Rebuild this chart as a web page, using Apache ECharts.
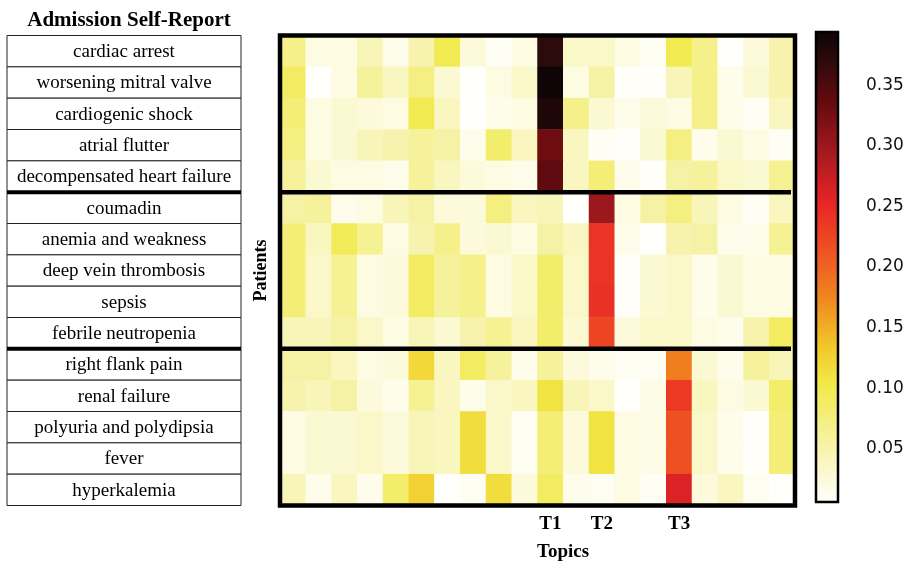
<!DOCTYPE html>
<html><head><meta charset="utf-8">
<script src="https://cdn.jsdelivr.net/npm/echarts@6/dist/echarts.min.js"></script>
<style>html,body{margin:0;padding:0;background:#fff}#c{width:912px;height:564px}</style>
</head><body><div id="c"></div>
<script>
const patients = [
  'cardiac arrest', 'worsening mitral valve', 'cardiogenic shock', 'atrial flutter', 'decompensated heart failure',
  'coumadin', 'anemia and weakness', 'deep vein thrombosis', 'sepsis', 'febrile neutropenia',
  'right flank pain', 'renal failure', 'polyuria and polydipsia', 'fever', 'hyperkalemia'
];
const topicCols = ['1','2','3','4','5','6','7','8','9','10','11','12','13','14','15','16','17','18','19','20'];
const topicTickLabels = ['','','','','','','','','','','T1','','T2','','','T3','','','',''];

// rows 0-4 (cardiac group)
const cardiacValues = [
  [0.070,0.020,0.020,0.045,0.015,0.050,0.100,0.025,0.010,0.020, 0.370,0.035,0.035,0.020,0.012,0.100,0.070,0.003,0.025,0.050],
  [0.090,0.005,0.020,0.060,0.040,0.075,0.030,0.005,0.020,0.035, 0.392,0.020,0.055,0.008,0.008,0.045,0.070,0.015,0.030,0.050],
  [0.080,0.020,0.030,0.025,0.020,0.100,0.040,0.003,0.015,0.020, 0.380,0.070,0.030,0.015,0.025,0.020,0.070,0.015,0.010,0.040],
  [0.075,0.020,0.030,0.045,0.050,0.060,0.055,0.015,0.085,0.040, 0.330,0.040,0.010,0.008,0.030,0.075,0.015,0.030,0.020,0.010],
  [0.060,0.030,0.020,0.020,0.015,0.060,0.040,0.025,0.020,0.015, 0.340,0.040,0.080,0.015,0.008,0.055,0.060,0.035,0.030,0.065]
];
// rows 5-9 (hematology group)
const hematologyValues = [
  [0.055,0.060,0.015,0.020,0.045,0.055,0.025,0.025,0.075,0.040, 0.045,0.002,0.300,0.020,0.055,0.075,0.045,0.020,0.010,0.040],
  [0.080,0.040,0.095,0.065,0.020,0.050,0.070,0.025,0.030,0.020, 0.055,0.040,0.240,0.015,0.005,0.050,0.055,0.015,0.015,0.065],
  [0.080,0.035,0.065,0.020,0.025,0.090,0.060,0.070,0.020,0.035, 0.085,0.035,0.240,0.008,0.030,0.035,0.015,0.030,0.020,0.020],
  [0.080,0.035,0.065,0.020,0.025,0.090,0.060,0.070,0.020,0.035, 0.085,0.035,0.242,0.008,0.030,0.035,0.015,0.030,0.020,0.020],
  [0.045,0.045,0.055,0.035,0.020,0.045,0.030,0.050,0.065,0.040, 0.085,0.030,0.225,0.025,0.035,0.035,0.020,0.015,0.050,0.090]
];
// rows 10-14 (renal group)
const renalValues = [
  [0.055,0.055,0.040,0.020,0.025,0.120,0.040,0.090,0.060,0.015, 0.060,0.025,0.015,0.012,0.012,0.180,0.030,0.015,0.060,0.045],
  [0.050,0.045,0.055,0.025,0.015,0.065,0.040,0.015,0.035,0.040, 0.110,0.045,0.035,0.005,0.018,0.235,0.040,0.020,0.030,0.085],
  [0.020,0.030,0.030,0.035,0.025,0.045,0.040,0.115,0.035,0.012, 0.080,0.025,0.110,0.020,0.018,0.215,0.035,0.015,0.008,0.080],
  [0.020,0.030,0.030,0.035,0.025,0.045,0.040,0.115,0.035,0.012, 0.080,0.025,0.110,0.020,0.018,0.215,0.035,0.015,0.008,0.080],
  [0.045,0.015,0.040,0.015,0.085,0.125,0.005,0.012,0.115,0.025, 0.090,0.015,0.012,0.020,0.010,0.260,0.025,0.040,0.012,0.005]
];
const colorbarTicks = [0.05, 0.10, 0.15, 0.20, 0.25, 0.30, 0.35];
const valueMin = 0.006;
const valueMax = 0.394;

// reversed "hot" colormap anchors (style, not data)
const cmapAnchors = [
  [0.00, [255,255,252]],
  [0.12, [247,243,170]],
  [0.254,[241,233,72]],
  [0.33, [242,200,40]],
  [0.45, [240,125,32]],
  [0.55, [238,75,35]],
  [0.64, [230,35,38]],
  [0.75, [160,25,30]],
  [0.85, [100,10,14]],
  [0.93, [50,10,12]],
  [1.00, [12,5,5]]
];
function cmap(t) {
  for (let i = 1; i < cmapAnchors.length; i++) {
    if (t <= cmapAnchors[i][0]) {
      const [t0, c0] = cmapAnchors[i-1], [t1, c1] = cmapAnchors[i];
      const f = (t - t0) / (t1 - t0);
      const c = c0.map((v, k) => Math.round(v + (c1[k] - v) * f));
      return 'rgb(' + c.join(',') + ')';
    }
  }
  return 'rgb(12,5,5)';
}
const NC = 60;
const cmapColors = [];
const cmapStops = [];
for (let i = 0; i <= NC; i++) {
  cmapColors.push(cmap(i / NC));
  cmapStops.push({offset: 1 - i / NC, color: cmap(i / NC)});
}

const allRows = cardiacValues.concat(hematologyValues, renalValues);
const heatData = [];
allRows.forEach((row, r) => row.forEach((v, c) => heatData.push([c, r, v])));

const serif = '"Liberation Serif", "Times New Roman", serif';
const G = {left: 280, top: 35.5, width: 515, height: 470};
const chart = echarts.init(document.getElementById('c'), null, {renderer: 'canvas'});

chart.setOption({
  animation: false,
  backgroundColor: '#fff',
  title: {
    text: 'Admission Self-Report', left: 124, top: 5, textAlign: 'center',
    textStyle: {fontFamily: serif, fontWeight: 'bold', fontSize: 21, color: '#000'}
  },
  grid: [
    {left: G.left, top: G.top, width: G.width, height: G.height, show: false},
    {left: 7, top: G.top, width: 234, height: G.height, show: false},
    {left: 816, top: 32, width: 22, height: 470, show: false}
  ],
  xAxis: [
    {gridIndex: 0, type: 'category', data: topicCols, axisLine: {show: false}, axisTick: {show: false},
     axisLabel: {interval: 0, margin: 9, formatter: (v, i) => topicTickLabels[i],
                 fontFamily: serif, fontWeight: 'bold', fontSize: 19, color: '#000'}},
    {gridIndex: 1, type: 'value', min: 0, max: 1, show: false},
    {gridIndex: 2, type: 'value', min: 0, max: 1, show: false}
  ],
  yAxis: [
    {gridIndex: 0, type: 'category', data: patients, inverse: true, axisLine: {show: false}, axisTick: {show: false},
     axisLabel: {show: false}, name: 'Patients', nameLocation: 'middle', nameRotate: 90, nameGap: 10,
     nameTextStyle: {fontFamily: serif, fontWeight: 'bold', fontSize: 18, color: '#000'}},
    {gridIndex: 1, type: 'category', data: patients, inverse: true, show: false},
    {gridIndex: 2, type: 'value', min: valueMin, max: valueMax, position: 'right',
     axisLine: {show: false}, splitLine: {show: false},
     axisTick: {show: true, customValues: colorbarTicks, length: 13, lineStyle: {color: '#000', width: 2.5}},
     axisLabel: {show: true, customValues: colorbarTicks, formatter: v => v.toFixed(2), margin: 28,
                 fontFamily: '"DejaVu Sans", sans-serif', fontSize: 17, color: '#111'}}
  ],
  visualMap: {
    type: 'continuous', show: false, seriesIndex: 0, min: valueMin, max: valueMax,
    inRange: {color: cmapColors}
  },
  series: [
    {type: 'heatmap', xAxisIndex: 0, yAxisIndex: 0, data: heatData, itemStyle: {borderWidth: 0}, emphasis: {disabled: true}},
    {type: 'custom', xAxisIndex: 1, yAxisIndex: 1, data: patients.map((p, i) => [0, i]),
     renderItem: (params, api) => {
       const idx = api.value(1);
       const c = api.coord([0, idx]);
       const h = api.size([0, 1])[1];
       const cs = params.coordSys;
       return {type: 'group', children: [
         {type: 'rect', shape: {x: cs.x, y: c[1] - h / 2, width: cs.width, height: h},
          style: {fill: '#fff', stroke: '#222', lineWidth: 1}},
         {type: 'text', style: {text: patients[idx], x: cs.x + cs.width / 2, y: c[1] + 1, align: 'center',
          verticalAlign: 'middle', font: '19px ' + serif, fill: '#000'}}
       ]};
     }},
    {type: 'custom', xAxisIndex: 2, yAxisIndex: 2, data: [[0.5, valueMin, valueMax]],
     renderItem: (params, api) => {
       const cs = params.coordSys;
       const top = api.coord([0.5, api.value(2)])[1];
       const bot = api.coord([0.5, api.value(1)])[1];
       return {type: 'rect', shape: {x: cs.x, y: top, width: cs.width, height: bot - top},
               style: {fill: new echarts.graphic.LinearGradient(0, 0, 0, 1, cmapStops), stroke: '#000', lineWidth: 2.5}};
     }}
  ]
});

// group separators (row boundaries between sections) and frame
const rowH = G.height / patients.length;
const sepRows = [cardiacValues.length, cardiacValues.length + hematologyValues.length];
const graphics = [];
sepRows.forEach(r => {
  const y = chart.convertToPixel({gridIndex: 0}, [0, r - 1])[1] + rowH / 2;
  graphics.push({type: 'line', shape: {x1: G.left, y1: y, x2: G.left + G.width - 4, y2: y}, style: {stroke: '#000', lineWidth: 4.5}, z: 10});
  graphics.push({type: 'line', shape: {x1: 7, y1: y, x2: 241, y2: y}, style: {stroke: '#000', lineWidth: 4}, z: 10});
});
graphics.push({type: 'rect', shape: {x: G.left, y: G.top, width: G.width, height: G.height},
  style: {fill: 'none', stroke: '#000', lineWidth: 4.5}, z: 11});
graphics.push({type: 'text', x: 563, y: 552, style: {text: 'Topics', align: 'center', verticalAlign: 'middle',
  font: 'bold 19px ' + serif, fill: '#000'}, z: 10});
chart.setOption({graphic: graphics});
</script></body></html>
